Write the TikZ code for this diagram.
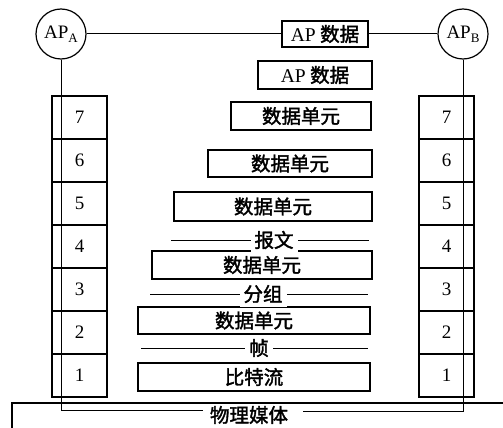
\documentclass[tikz,border=0pt]{standalone}
\usepackage{fontspec}
\setmainfont{Liberation Serif}
\newfontfamily\cjk[FakeBold=1.8]{Noto Sans CJK SC}
\begin{document}
\begin{tikzpicture}[x=1pt,y=-1pt,
  line/.style={line width=1pt},
  unit/.style={draw, line width=1.3pt, inner sep=0pt, font=\cjk\fontsize{19.5}{19.5}\selectfont},
  layer/.style={draw, line width=1.3pt, minimum width=55pt, minimum height=43pt, inner sep=0pt, font=\fontsize{19}{19}\selectfont},
  apc/.style={draw, circle, line width=1.2pt, minimum size=50pt, inner sep=0pt, font=\fontsize{19}{19}\selectfont},
  lbl/.style={fill=white, inner sep=4pt, font=\cjk\fontsize{19.5}{19.5}\selectfont}]
\useasboundingbox (0,0) rectangle (503,428);
\fill[white] (0,0) rectangle (503,428);
% physical medium box
\begin{scope}
\clip (0,0) rectangle (503,428);
\draw[line width=1.3pt] (12,440) -- (12,403) -- (520,403);
\end{scope}
% AP circles
\node[apc] (apA) at (61,34) {AP\raisebox{-4pt}{\fontsize{13}{13}\selectfont A}};
\node[apc] (apB) at (463,34) {AP\raisebox{-4pt}{\fontsize{13}{13}\selectfont B}};
% data units
\node[unit, minimum width=86pt, minimum height=26pt] (u0) at (325,34) {{\rmfamily\mdseries AP} 数据};
\node[unit, minimum width=114pt, minimum height=28pt] (u1) at (315,75) {{\rmfamily\mdseries AP} 数据};
\node[unit, minimum width=140pt, minimum height=28pt] (u2) at (301,116) {数据单元};
\node[unit, minimum width=164pt, minimum height=27pt] (u3) at (290,163.5) {数据单元};
\node[unit, minimum width=198pt, minimum height=29pt] (u4) at (273,206.5) {数据单元};
\node[unit, minimum width=220pt, minimum height=28pt] (u5) at (262,265) {数据单元};
\node[unit, minimum width=232pt, minimum height=27pt] (u6) at (254,320.5) {数据单元};
\node[unit, minimum width=232pt, minimum height=28pt] (u7) at (254,377) {比特流};
% layer stacks
\foreach \n/\y in {7/117.5,6/160.5,5/203.5,4/246.5,3/289.5,2/332.5,1/375.5}{
  \node[layer] (LA\n) at (79.5,\y) {\n};
  \node[layer] (LB\n) at (446.5,\y) {\n};
}
% top connectors
\draw[line] (apA) -- (u0);
\draw[line] (u0) -- (apB);
% vertical connectors down to the medium
\coordinate (ml) at (61,410);
\coordinate (mlend) at (203,410);
\coordinate (mr) at (463,411);
\coordinate (mrend) at (303,411);
\draw[line] (apA.south) -- (ml) -- (mlend);
\draw[line] (apB.south) -- (mr) -- (mrend);
\node[font=\cjk\fontsize{19.5}{19.5}\selectfont, inner sep=0pt] (medium) at (249,415) {物理媒体};
% labelled separator lines
\coordinate (bw1) at (171,240); \coordinate (bw2) at (369,240);
\draw[line] (bw1) -- (bw2);
\node[lbl] (baowen) at (274,240) {报文};
\coordinate (fz1) at (150,294); \coordinate (fz2) at (368,294);
\draw[line] (fz1) -- (fz2);
\node[lbl] (fenzu) at (263,294) {分组};
\coordinate (zh1) at (141,348); \coordinate (zh2) at (368,348);
\draw[line] (zh1) -- (zh2);
\node[lbl] (zhen) at (259,348) {帧};
\end{tikzpicture}
\end{document}
